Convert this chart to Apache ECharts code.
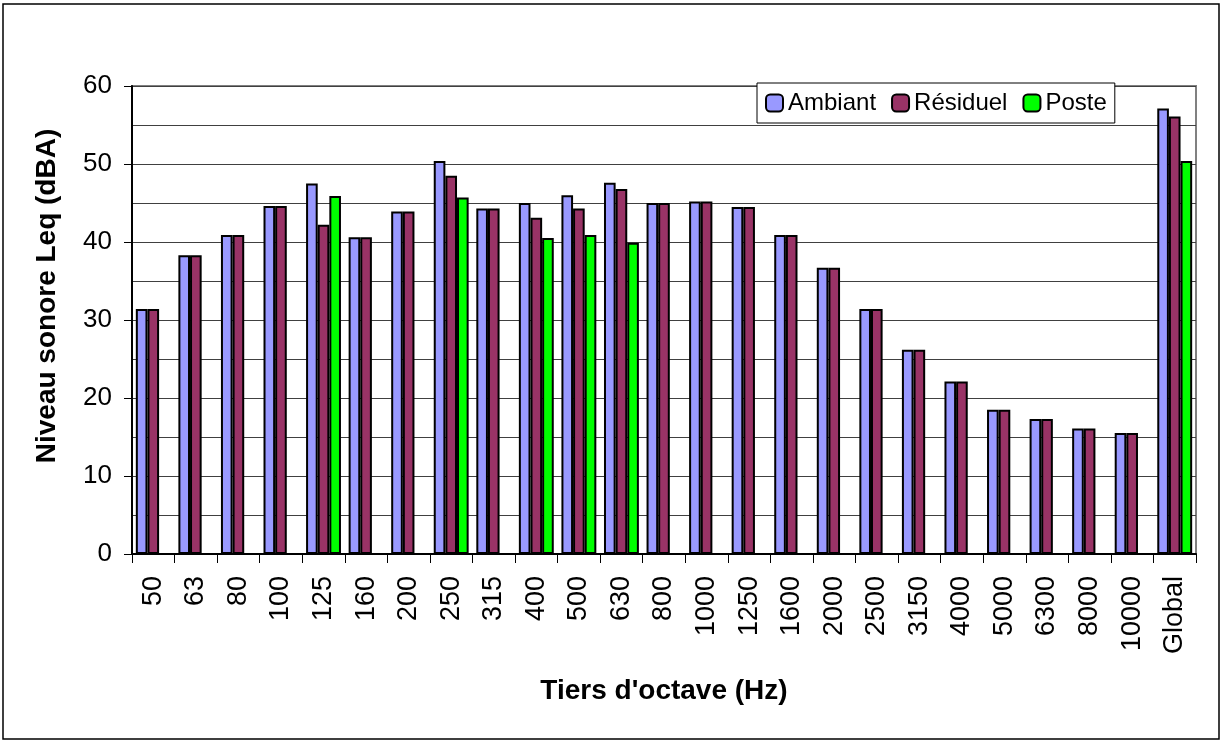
<!DOCTYPE html>
<html>
<head>
<meta charset="utf-8">
<script src="https://cdn.jsdelivr.net/npm/echarts@6/dist/echarts.min.js"></script>
<style>
  html, body { margin: 0; padding: 0; background: #fff; }
  #main { width: 1222px; height: 741px; }
</style>
</head>
<body>
<div id="main"></div>
<script>
// bandes de tiers d'octave
var categories = ['50', '63', '80', '100', '125', '160', '200', '250', '315', '400', '500', '630',
  '800', '1000', '1250', '1600', '2000', '2500', '3150', '4000', '5000', '6300', '8000', '10000', 'Global'];

var ambiant = [31.4, 38.3, 40.9, 44.6, 47.5, 40.6, 43.9, 50.4, 44.3, 45.0, 46.0, 47.6,
  45.0, 45.2, 44.5, 40.9, 36.7, 31.4, 26.2, 22.1, 18.5, 17.3, 16.1, 15.5, 57.1];
var residuel = [31.4, 38.3, 40.9, 44.6, 42.2, 40.6, 43.9, 48.5, 44.3, 43.1, 44.3, 46.8,
  45.0, 45.2, 44.5, 40.9, 36.7, 31.4, 26.2, 22.1, 18.5, 17.3, 16.1, 15.5, 56.1];
var poste = [null, null, null, null, 45.9, null, null, 45.7, null, 40.5, 40.9, 39.9,
  null, null, null, null, null, null, null, null, null, null, null, null, 50.4];

var seriesNames = ['Ambiant', 'Résiduel', 'Poste'];
var seriesColors = ['#9999FF', '#993366', '#00FF00'];

var myChart = echarts.init(document.getElementById('main'));

function barSerie(i, data) {
  return {
    name: seriesNames[i],
    type: 'bar',
    data: data,
    barGap: '0%',
    barCategoryGap: '18%',
    itemStyle: {
      color: seriesColors[i],
      borderColor: '#000',
      borderWidth: 2
    }
  };
}

myChart.setOption({
  animation: false,
  backgroundColor: '#fff',
  textStyle: { fontFamily: 'Liberation Sans, Arial, sans-serif' },
  graphic: [
    {
      type: 'rect',
      shape: { x: 3, y: 4, width: 1216, height: 735 },
      style: { fill: null, stroke: '#000', lineWidth: 1.5 },
      z: -1
    },
    {
      type: 'text',
      x: 47, y: 296,
      rotation: Math.PI / 2,
      style: {
        text: 'Niveau sonore Leq (dBA)',
        fontFamily: 'Liberation Sans, Arial, sans-serif',
        fontWeight: 'bold', fontSize: 28, fill: '#000',
        align: 'center', verticalAlign: 'middle'
      }
    },
    {
      type: 'text',
      x: 664, y: 691,
      style: {
        text: "Tiers d'octave (Hz)",
        fontFamily: 'Liberation Sans, Arial, sans-serif',
        fontWeight: 'bold', fontSize: 28, fill: '#000',
        align: 'center', verticalAlign: 'middle'
      }
    }
  ],
  grid: {
    show: true,
    left: 132,
    right: 26,
    top: 86,
    bottom: 187,
    borderColor: '#808080',
    borderWidth: 2,
    backgroundColor: '#fff'
  },
  legend: {
    data: seriesNames,
    left: 757,
    top: 83,
    padding: [8, 8, 8, 8],
    itemWidth: 17,
    itemHeight: 17,
    itemGap: 15,
    backgroundColor: '#fff',
    borderColor: '#000',
    borderWidth: 1,
    itemStyle: { borderColor: '#000', borderWidth: 2 },
    textStyle: { color: '#000', fontSize: 24 }
  },
  xAxis: {
    type: 'category',
    data: categories,
    axisLine: { lineStyle: { color: '#000', width: 2 } },
    axisTick: { show: true, length: 9, lineStyle: { color: '#000' } },
    axisLabel: {
      rotate: 90,
      margin: 22,
      color: '#000',
      fontSize: 27,
      interval: 0
    }
  },
  yAxis: {
    type: 'value',
    min: 0,
    max: 60,
    interval: 10,
    axisLine: { show: true, lineStyle: { color: '#000', width: 2 } },
    axisTick: { show: true, length: 8, lineStyle: { color: '#000' } },
    minorTick: { show: false, splitNumber: 2 },
    axisLabel: { color: '#000', fontSize: 26, margin: 20 },
    splitLine: { show: true, lineStyle: { color: '#404040', width: 1 } },
    minorSplitLine: { show: true, lineStyle: { color: '#404040', width: 1 } }
  },
  series: [
    barSerie(0, ambiant),
    barSerie(1, residuel),
    barSerie(2, poste)
  ]
});
</script>
</body>
</html>
